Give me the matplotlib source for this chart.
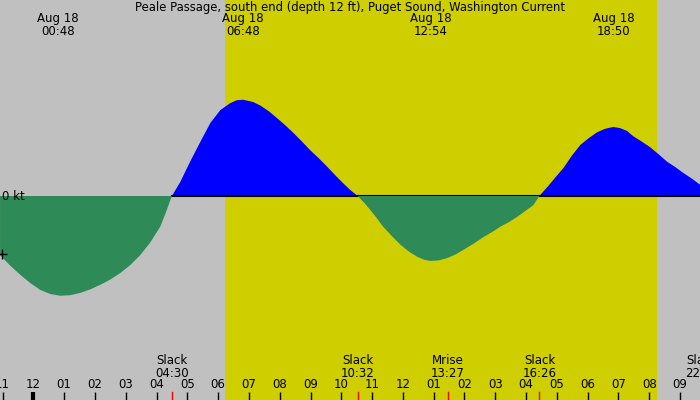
import matplotlib
matplotlib.use("Agg")
import matplotlib.pyplot as plt
import matplotlib.transforms as mtransforms
import numpy as np

title = "Peale Passage, south end (depth 12 ft), Puget Sound, Washington Current"

# hours since midnight Aug 18, current speed in knots
hours = [-1.08, -0.75, -0.42, -0.1, 0.23, 0.55, 0.88, 1.2, 1.53, 1.85, 2.18, 2.5, 2.82,
         3.15, 3.47, 3.8, 4.12, 4.3, 4.5,
         4.77, 5.09, 5.42, 5.75, 6.07, 6.39, 6.6, 6.81, 7.14, 7.37, 7.65, 7.92,
         8.18, 8.44, 8.72, 8.99, 9.27, 9.55, 9.8, 10.06, 10.3, 10.53,
         10.75, 10.94, 11.15, 11.36, 11.64, 11.92, 12.2, 12.47, 12.7, 12.9, 13.17, 13.44,
         13.7, 13.96, 14.3, 14.61, 14.9, 15.16, 15.44, 15.71, 15.97, 16.23, 16.43,
         16.7, 16.95, 17.21, 17.48, 17.76, 18.04, 18.31, 18.57, 18.83, 19.06, 19.28,
         19.48, 19.75, 20.03, 20.3, 20.58, 20.84, 21.1, 21.38, 21.66]
speed = [-1.02, -1.2, -1.36, -1.5, -1.62, -1.69, -1.72, -1.71, -1.67, -1.61, -1.53, -1.44, -1.33,
         -1.19, -1.02, -0.8, -0.53, -0.29, 0.0,
         0.24, 0.59, 0.93, 1.26, 1.48, 1.60, 1.65, 1.66, 1.62, 1.56, 1.46, 1.34,
         1.22, 1.09, 0.94, 0.79, 0.65, 0.50, 0.36, 0.22, 0.10, 0.0,
         -0.12, -0.24, -0.38, -0.53, -0.69, -0.84, -0.96, -1.05, -1.1, -1.12, -1.11, -1.07,
         -1.01, -0.93, -0.82, -0.71, -0.62, -0.53, -0.45, -0.36, -0.26, -0.16, 0.0,
         0.16, 0.32, 0.48, 0.69, 0.88, 1.0, 1.10, 1.16, 1.19, 1.17, 1.12,
         1.03, 0.94, 0.84, 0.72, 0.59, 0.50, 0.40, 0.30, 0.19]

peak_hours = [0.8, 6.8, 12.9, 18.833]
peak_labels = ["Aug 18\n00:48", "Aug 18\n06:48", "Aug 18\n12:54", "Aug 18\n18:50"]

event_hours = [4.5, 10.533, 13.45, 16.433, 21.72]
event_labels = ["Slack\n04:30", "Slack\n10:32", "Mrise\n13:27", "Slack\n16:26", "Slack\n22:07"]

sunrise, sunset = 6.22, 20.26
hour_ticks = list(range(-1, 22))

px_per_h = 30.8
x0_px = 33.3
px_per_kt = 58.0
zero_px = 196.0

fig = plt.figure(figsize=(7, 4), dpi=100)
fig.patch.set_facecolor("#c0c0c0")
ax = fig.add_axes([0, 0, 1, 1])
ax.set_facecolor("#c0c0c0")
ax.set_xlim(-x0_px / px_per_h, (700 - x0_px) / px_per_h)
ax.set_ylim(-(400 - zero_px) / px_per_kt, zero_px / px_per_kt)
ax.axis("off")

ax.axvspan(sunrise, sunset, color="#cece00", lw=0, zorder=0)

t = np.array(hours)
v = np.array(speed)
ax.fill_between(t, 0, v, where=v >= 0, color="#0000ff", lw=0, zorder=2, interpolate=True)
ax.axhline(0, xmin=(4.5 + x0_px / px_per_h) / (700 / px_per_h), color="black", lw=1.5, zorder=3)
ax.fill_between(t, 0, v, where=v <= 0, color="#2e8b57", lw=0, zorder=4, interpolate=True)

trans = mtransforms.blended_transform_factory(ax.transData, ax.transAxes)
fs = 8.5

ax.text(0.5, 1 - 8 / 400, title, transform=ax.transAxes, ha="center", va="center", fontsize=8.4)
for h, lab in zip(peak_hours, peak_labels):
    ax.text(h, 1 - 25 / 400, lab, transform=trans, ha="center", va="center",
            fontsize=fs, linespacing=1.0)

for h, lab in zip(event_hours, event_labels):
    ax.text(h, 1 - 367 / 400, lab, transform=trans, ha="center", va="center",
            fontsize=fs, linespacing=1.0)
    ax.plot([h, h], [0, 8 / 400], transform=trans, color="red", lw=1, zorder=5)

for h in hour_ticks:
    lab = "%02d" % (12 if h % 12 == 0 else h % 12)
    ax.text(h, 1 - 385 / 400, lab, transform=trans, ha="center", va="center", fontsize=fs)
    ax.plot([h, h], [0, 8 / 400], transform=trans, color="black",
            lw=3 if h == 0 else 1, zorder=5, solid_capstyle="butt")

ax.text(2 / 700, 1 - zero_px / 400, "0 kt", transform=ax.transAxes, ha="left",
        va="center", fontsize=fs, zorder=6)
ax.plot([ax.get_xlim()[0] + 2 / px_per_h], [-1.0], marker="+", color="black",
        markersize=7, mew=1, zorder=6, clip_on=False)

fig.savefig("out.png", dpi=100, facecolor=fig.get_facecolor())
